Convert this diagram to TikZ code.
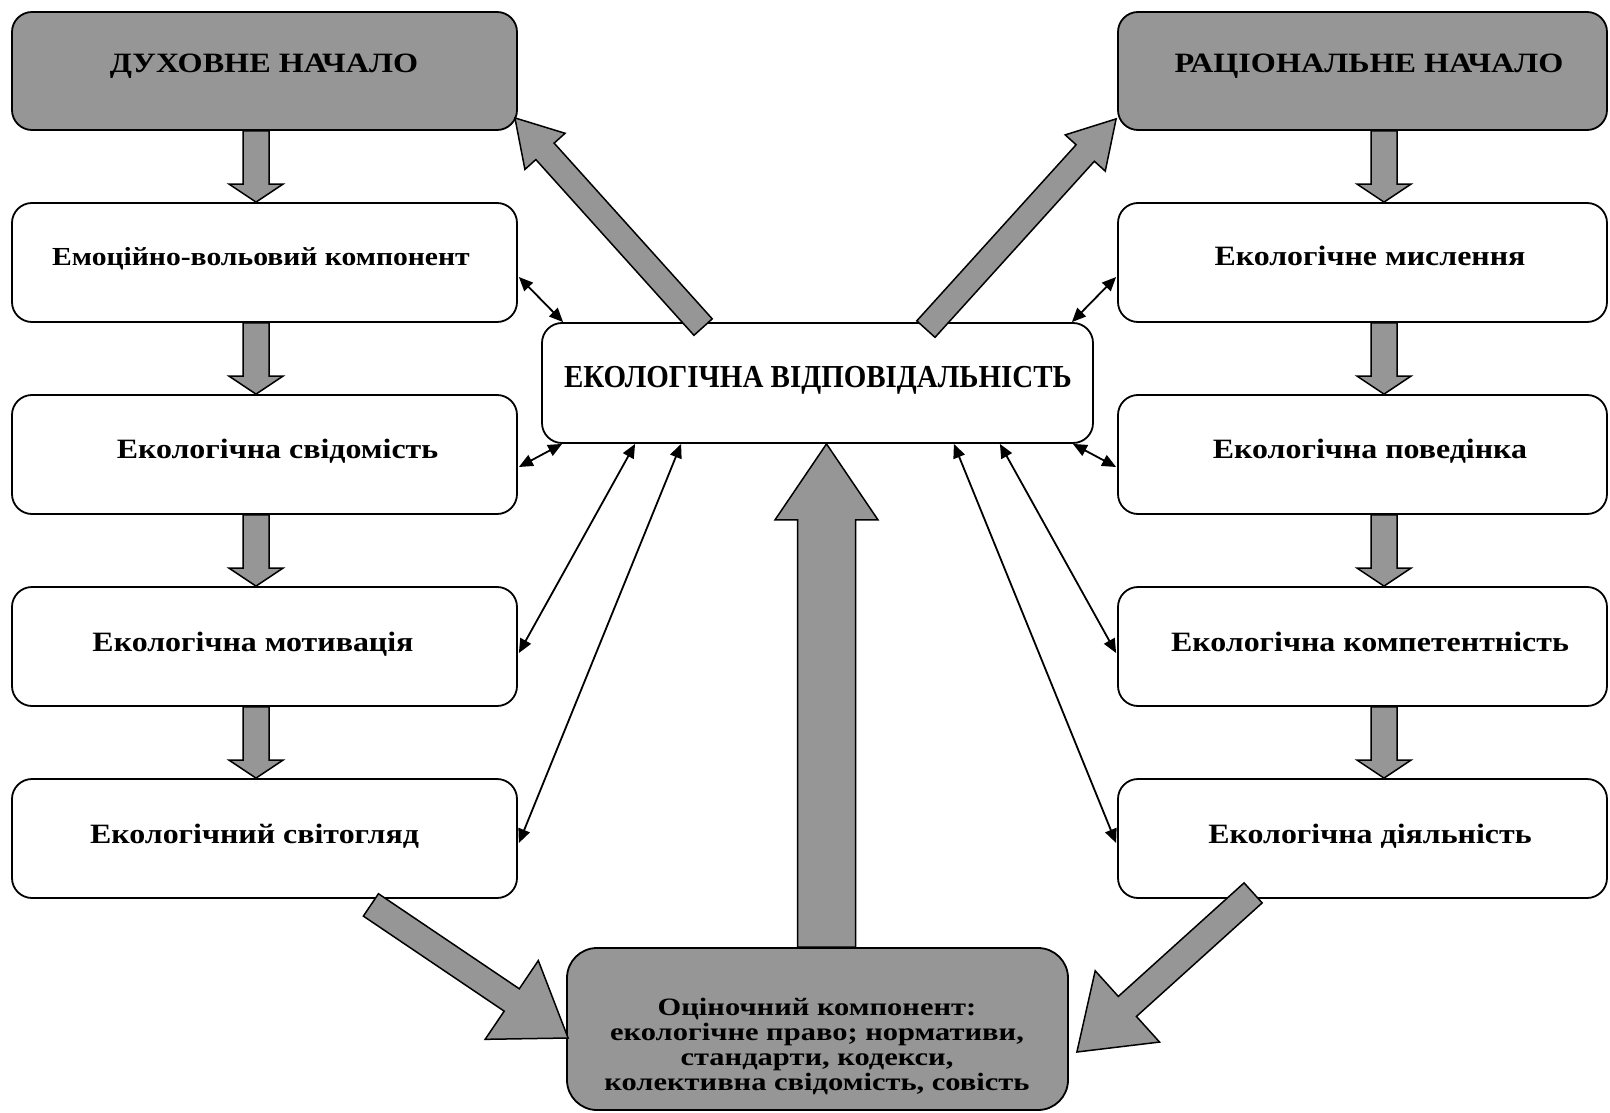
\documentclass[tikz,border=0pt]{standalone}
\usepackage{graphicx}
\usepackage{fontspec}
\setmainfont{Liberation Serif}
\usetikzlibrary{calc,arrows.meta}
\definecolor{fillgray}{RGB}{150,150,150}

% block arrow: from, to, shaft half-width, head half-width, head length
\newcommand\blockarrow[5]{%
  \path ($(#2)!#5!(#1)$) coordinate (headbase);
  \draw[blk] ($(#1)!#3!90:(#2)$) -- ($(headbase)!#3!90:(#2)$)
    -- ($(headbase)!#4!90:(#2)$) -- (#2)
    -- ($(headbase)!#4!-90:(#2)$) -- ($(headbase)!#3!-90:(#2)$)
    -- ($(#1)!#3!-90:(#2)$) -- cycle;
}
% horizontally scaled label text
\newcommand\wide[2]{\scalebox{#1}[1]{#2}}

\begin{document}
\begin{tikzpicture}[x=1pt,y=-1pt,
  box/.style={draw=black, line width=1.8pt, rounded corners=20pt, inner sep=0pt},
  whitebox/.style={box, fill=white, minimum height=119pt},
  leftbox/.style={whitebox, minimum width=505pt},
  rightbox/.style={whitebox, minimum width=489pt},
  graybox/.style={box, fill=fillgray},
  txt/.style={font=\bfseries\fontsize{28}{34}\selectfont, inner sep=0pt, anchor=base},
  smalltxt/.style={txt, font=\bfseries\fontsize{26}{30}\selectfont},
  bigtxt/.style={txt, font=\bfseries\fontsize{32}{36}\selectfont},
  lowtxt/.style={txt, font=\bfseries\fontsize{25}{26}\selectfont},
  blk/.style={draw=black, line width=1.5pt, fill=fillgray, line join=miter},
  link/.style={line width=1.8pt, {Triangle[length=14pt,width=12pt]}-{Triangle[length=14pt,width=12pt]}}
]
\useasboundingbox (0,0) rectangle (1610,1113);

% top panels
\node[graybox, minimum width=505pt, minimum height=118pt] (D) at (264.5,71) {};
\node[graybox, minimum width=489pt, minimum height=118pt] (R) at (1362.5,71) {};

% left column
\node[leftbox] (L1) at (264.5,262.5) {};
\node[leftbox] (L2) at (264.5,454.5) {};
\node[leftbox] (L3) at (264.5,646.5) {};
\node[leftbox] (L4) at (264.5,838.5) {};

% right column
\node[rightbox] (R1) at (1362.5,262.5) {};
\node[rightbox] (R2) at (1362.5,454.5) {};
\node[rightbox] (R3) at (1362.5,646.5) {};
\node[rightbox] (R4) at (1362.5,838.5) {};

% central panel
\node[whitebox, minimum width=551pt, minimum height=120pt] (C) at (817.5,383) {};

% column arrows
\foreach \a/\b in {D/L1, L1/L2, L2/L3, L3/L4} {
  \path ($(\a.south)+(-8.5,0)$) coordinate (s) ($(\b.north)+(-8.5,0)$) coordinate (e);
  \blockarrow{s}{e}{13pt}{27pt}{18pt}
}
\foreach \a/\b in {R/R1, R1/R2, R2/R3, R3/R4} {
  \path ($(\a.south)+(21.5,0)$) coordinate (s) ($(\b.north)+(21.5,0)$) coordinate (e);
  \blockarrow{s}{e}{13pt}{27pt}{18pt}
}

% diagonal arrows towards the two top panels
\coordinate (dl0) at ($(C.north west)+(162,5)$);
\coordinate (dl1) at ($(D.south east)+(-3,-13)$);
\blockarrow{dl0}{dl1}{12.3pt}{27pt}{45pt}
\coordinate (dr0) at ($(C.north east)+(-168,7)$);
\coordinate (dr1) at ($(R.south west)+(-1,-12)$);
\blockarrow{dr0}{dr1}{12.3pt}{27pt}{46pt}

% bottom panel and arrows into it
\node[graybox, rounded corners=30pt, minimum width=501pt, minimum height=162pt] (B) at (817.5,1029) {};
\coordinate (bl0) at ($(L4.south east)+(-147,6)$);
\coordinate (bl1) at ($(B.west)+(2,9)$);
\blockarrow{bl0}{bl1}{13.5pt}{47.5pt}{68pt}
\coordinate (br0) at ($(R4.south west)+(136,-6)$);
\coordinate (br1) at ($(B.east)+(8,23)$);
\blockarrow{br0}{br1}{13.5pt}{48pt}{68pt}
\coordinate (up0) at ($(B.north)+(9,0)$);
\coordinate (up1) at ($(C.south)+(9,0)$);
\blockarrow{up0}{up1}{29pt}{51.5pt}{76pt}

% two-way links between the central panel and the columns
\draw[link] ($(L1.east)+(1,14.5)$) -- ($(C.north west)+(22,0)$);
\draw[link] ($(C.south west)+(21,0)$) -- ($(L2.east)+(1,12.5)$);
\draw[link] ($(C.south west)+(94,0)$) -- ($(L3.east)+(1,6.5)$);
\draw[link] ($(C.south west)+(140,0)$) -- ($(L4.east)+(1,4.5)$);
\draw[link] ($(R1.west)+(-1,14.5)$) -- ($(C.north east)+(-22,0)$);
\draw[link] ($(C.south east)+(-21,0)$) -- ($(R2.west)+(-1,12.5)$);
\draw[link] ($(C.south east)+(-94,0)$) -- ($(R3.west)+(-1,6.5)$);
\draw[link] ($(C.south east)+(-140,0)$) -- ($(R4.west)+(-1,4.5)$);

% texts
\node[txt] (Dt) at (264,73) {\wide{1.15}{ДУХОВНЕ НАЧАЛО}};
\node[txt] (Rt) at (1369,73) {\wide{1.15}{РАЦІОНАЛЬНЕ НАЧАЛО}};
\node[smalltxt] (L1t) at (261,265) {\wide{1.14}{Емоційно-вольовий компонент}};
\node[txt] (L2t) at (277.5,458) {\wide{1.14}{Екологічна свідомість}};
\node[txt] (L3t) at (253,651) {\wide{1.14}{Екологічна мотивація}};
\node[txt] (L4t) at (254.5,843) {\wide{1.14}{Екологічний світогляд}};
\node[txt] (R1t) at (1370,265) {\wide{1.14}{Екологічне мислення}};
\node[txt] (R2t) at (1370,458) {\wide{1.14}{Екологічна поведінка}};
\node[txt] (R3t) at (1370,651) {\wide{1.14}{Екологічна компетентність}};
\node[txt] (R4t) at (1370,843) {\wide{1.14}{Екологічна діяльність}};
\node[bigtxt] (Ct) at (818,387) {\wide{0.906}{ЕКОЛОГІЧНА ВІДПОВІДАЛЬНІСТЬ}};
\node[lowtxt] (Bt1) at (817,1015) {\wide{1.22}{Оціночний компонент:}};
\node[lowtxt] (Bt2) at (817,1040) {\wide{1.22}{екологічне право; нормативи,}};
\node[lowtxt] (Bt3) at (817,1065) {\wide{1.22}{стандарти, кодекси,}};
\node[lowtxt] (Bt4) at (817,1090) {\wide{1.22}{колективна свідомість, совість}};
\end{tikzpicture}
\end{document}
